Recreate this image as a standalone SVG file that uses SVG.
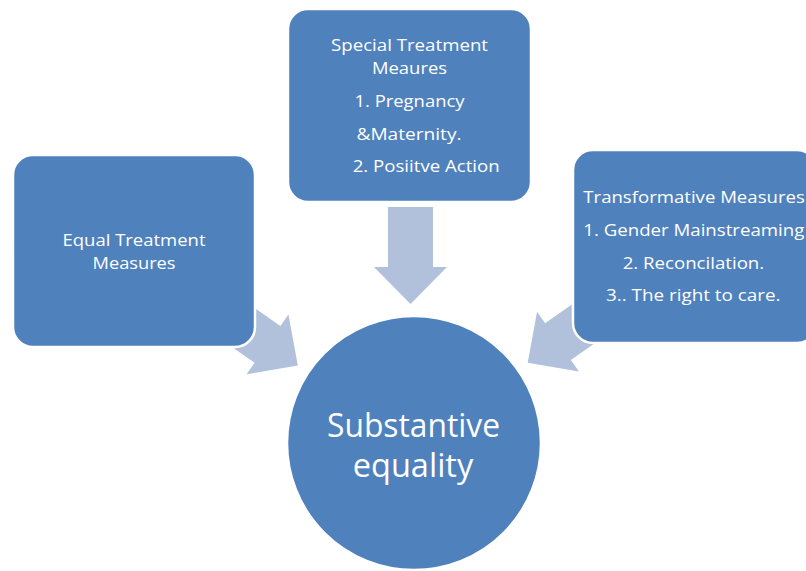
<svg xmlns="http://www.w3.org/2000/svg" width="806" height="571" viewBox="0 0 806 571">
  <defs>
    <style>
      .box { fill: #4F81BD; stroke: #FFFFFF; stroke-width: 2.5; }
      .arrow { fill: #B1C1DC; }
      .lbl { font-family: "Open Sans", "Noto Sans", "Liberation Sans", sans-serif; fill: #FFFFFF; font-size: 17px; }
      .big { font-size: 32px; }
    </style>
    <!-- block arrow pointing along +y, tip at the origin -->
    <polygon id="blockArrow" points="0,0 -36.5,-37 -22.5,-37 -22.5,-97 22.5,-97 22.5,-37 36.5,-37"/>
  </defs>

  <rect width="806" height="571" fill="#FFFFFF"/>

  <!-- connectors -->
  <g id="connectors">
    <use href="#blockArrow" class="arrow" transform="translate(410.5,304)"/>
    <use href="#blockArrow" class="arrow" transform="translate(297.8,365.6) rotate(-55)"/>
    <use href="#blockArrow" class="arrow" transform="translate(527.7,362.8) rotate(55)"/>
  </g>

  <g id="equal-treatment">
    <rect class="box" x="13" y="155" width="242" height="192" rx="20"/>
    <text class="lbl" x="134" y="245.5" text-anchor="middle" textLength="143" lengthAdjust="spacingAndGlyphs">Equal Treatment</text>
    <text class="lbl" x="134" y="269" text-anchor="middle" textLength="83" lengthAdjust="spacingAndGlyphs">Measures</text>
  </g>

  <g id="special-treatment">
    <rect class="box" x="288" y="9" width="243" height="193" rx="20"/>
    <text class="lbl" x="409.5" y="50.5" text-anchor="middle" textLength="157" lengthAdjust="spacingAndGlyphs">Special Treatment</text>
    <text class="lbl" x="409.5" y="74" text-anchor="middle" textLength="75" lengthAdjust="spacingAndGlyphs">Meaures</text>
    <text class="lbl" x="409.5" y="106.5" text-anchor="middle" textLength="110" lengthAdjust="spacingAndGlyphs">1. Pregnancy</text>
    <text class="lbl" x="409" y="139.5" text-anchor="middle" textLength="105" lengthAdjust="spacingAndGlyphs">&amp;Maternity.</text>
    <text class="lbl" x="352.7" y="171.5" textLength="147" lengthAdjust="spacingAndGlyphs">2. Posiitve Action</text>
  </g>

  <g id="transformative">
    <rect class="box" x="573" y="150" width="244" height="193" rx="20"/>
    <text class="lbl" x="583.3" y="203" textLength="221.5" lengthAdjust="spacingAndGlyphs">Transformative Measures</text>
    <text class="lbl" x="583.3" y="235.5" textLength="221" lengthAdjust="spacingAndGlyphs">1. Gender Mainstreaming</text>
    <text class="lbl" x="622.7" y="268.5" textLength="141.5" lengthAdjust="spacingAndGlyphs">2. Reconcilation.</text>
    <text class="lbl" x="606" y="300.5" textLength="174.5" lengthAdjust="spacingAndGlyphs">3.. The right to care.</text>
  </g>

  <g id="substantive-equality">
    <circle class="box" cx="414" cy="443" r="127"/>
    <text class="lbl big" x="413.5" y="437" text-anchor="middle" textLength="173" lengthAdjust="spacingAndGlyphs">Substantive</text>
    <text class="lbl big" x="413" y="476.5" text-anchor="middle" textLength="120.5" lengthAdjust="spacingAndGlyphs">equality</text>
  </g>
</svg>
